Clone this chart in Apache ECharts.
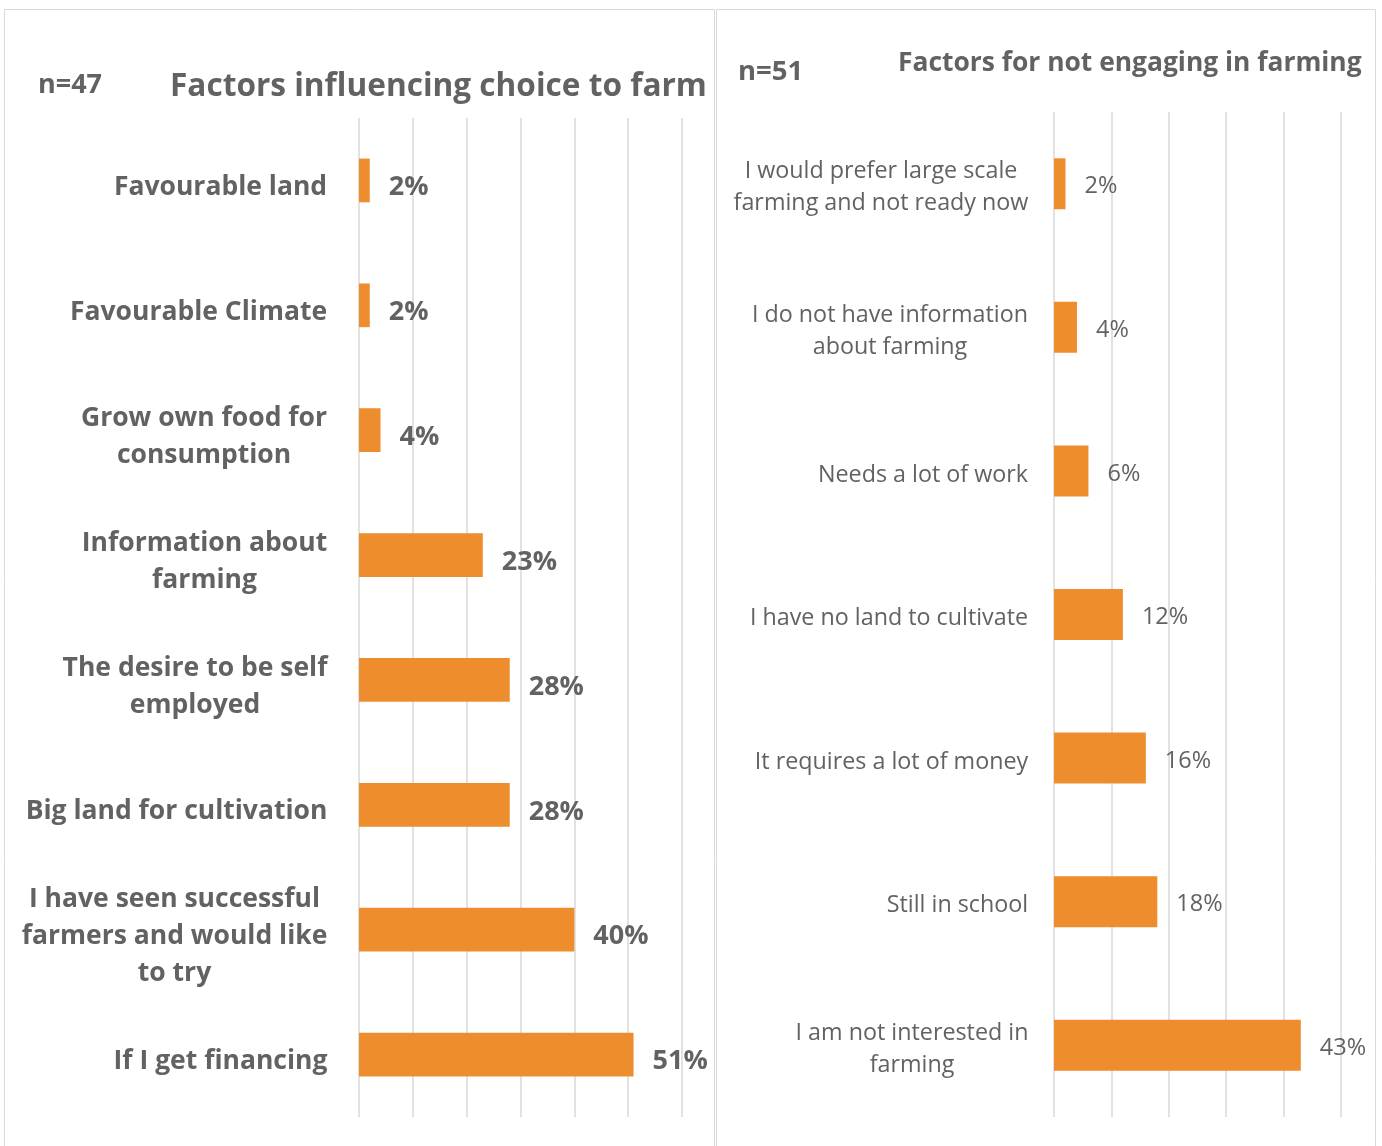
<!DOCTYPE html>
<html>
<head>
<meta charset="utf-8">
<script src="https://cdn.jsdelivr.net/npm/echarts@6/dist/echarts.min.js"></script>
<style>
  html, body { margin: 0; padding: 0; background: #fff; }
  #chart { width: 1382px; height: 1146px; }
</style>
</head>
<body>
<div id="chart"></div>
<script>
// Survey results (percent of respondents)
const farmReasons = [
  'Favourable land',
  'Favourable Climate',
  'Grow own food for\nconsumption',
  'Information about\nfarming',
  'The desire to be self\nemployed',
  'Big land for cultivation',
  'I have seen successful\nfarmers and would like\nto try',
  'If I get financing'
];
const farmValues = [2, 2, 4, 23, 28, 28, 40, 51];

const notFarmReasons = [
  'I would prefer large scale\nfarming and not ready now',
  'I do not have information\nabout farming',
  'Needs a lot of work',
  'I have no land to cultivate',
  'It requires a lot of money',
  'Still in school',
  'I am not interested in\nfarming'
];
const notFarmValues = [2, 4, 6, 12, 16, 18, 43];

const leftTicks = { min: 0, max: 60, interval: 10 };
const rightTicks = { min: 0, max: 50, interval: 10 };

const FONT = '"Open Sans", "Noto Sans", sans-serif';
const TEXT = '#626262';
const BAR = '#EE8D2D';
const GRID = '#e2e2e2';

// Multi-line labels are centred on their longest line, and the block is right-aligned to the axis.
const ctx = document.createElement('canvas').getContext('2d');
function buildRich(labels, weight, size, lineHeight) {
  ctx.font = `${weight} ${size}px ${FONT}`;
  const rich = {};
  labels.forEach((l, i) => {
    const w = Math.max(...l.split('\n').map(s => ctx.measureText(s).width));
    rich['c' + i] = {
      width: Math.ceil(w) + 1, align: 'center', fontFamily: FONT,
      fontWeight: weight, fontSize: size, lineHeight: lineHeight, color: TEXT
    };
  });
  return rich;
}
const leftRich = buildRich(farmReasons, 'bold', 26.5, 37);
const rightRich = buildRich(notFarmReasons, 'normal', 23.3, 32);

const chart = echarts.init(document.getElementById('chart'), null, { renderer: 'canvas' });

function valueAxis(idx, ticks) {
  return {
    type: 'value', gridIndex: idx, min: ticks.min, max: ticks.max, interval: ticks.interval,
    axisLabel: { show: false }, axisLine: { show: false }, axisTick: { show: false },
    splitLine: { show: true, lineStyle: { color: GRID, width: 2 } }
  };
}
function catAxis(idx, data, rich, margin, shift) {
  return {
    type: 'category', gridIndex: idx, data: data, inverse: true,
    axisLine: { show: false }, axisTick: { show: false },
    axisLabel: {
      margin: margin, interval: 0, padding: [shift * 2, 0, 0, 0],
      formatter: (v, i) => `{c${i}|${v}}`, rich: rich
    }
  };
}

chart.setOption({
  animation: false,
  backgroundColor: '#fff',
  grid: [
    { left: 359, width: 323, top: 118, height: 999 },
    { left: 1054, width: 287, top: 112, height: 1005 }
  ],
  xAxis: [valueAxis(0, leftTicks), valueAxis(1, rightTicks)],
  yAxis: [catAxis(0, farmReasons, leftRich, 31, 7), catAxis(1, notFarmReasons, rightRich, 25, 4)],
  series: [
    {
      type: 'bar', xAxisIndex: 0, yAxisIndex: 0, data: farmValues,
      barCategoryGap: '65%', itemStyle: { color: BAR },
      label: {
        show: true, position: 'right', distance: 19, offset: [0, 7], formatter: '{c}%',
        fontFamily: FONT, fontWeight: 'bold', fontSize: 27, color: TEXT
      }
    },
    {
      type: 'bar', xAxisIndex: 1, yAxisIndex: 1, data: notFarmValues,
      barCategoryGap: '64.5%', itemStyle: { color: BAR },
      label: {
        show: true, position: 'right', distance: 19, offset: [0, 3], formatter: '{c}%',
        fontFamily: FONT, fontSize: 23.5, color: TEXT
      }
    }
  ],
  graphic: [
    { type: 'rect', shape: { x: 4.5, y: 9.5, width: 710, height: 1150 },
      style: { fill: 'none', stroke: '#d9d9d9', lineWidth: 1 }, silent: true },
    { type: 'rect', shape: { x: 716.5, y: 9.5, width: 659, height: 1150 },
      style: { fill: 'none', stroke: '#d9d9d9', lineWidth: 1 }, silent: true },
    { type: 'text', x: 38, y: 85,
      style: { text: 'n=47', font: `bold 27px ${FONT}`, fill: TEXT, textVerticalAlign: 'middle' } },
    { type: 'text', x: 170, y: 87,
      style: { text: 'Factors influencing choice to farm', font: `bold 31.6px ${FONT}`, fill: TEXT, textVerticalAlign: 'middle' } },
    { type: 'text', x: 738, y: 72,
      style: { text: 'n=51', font: `bold 27.5px ${FONT}`, fill: TEXT, textVerticalAlign: 'middle' } },
    { type: 'text', x: 898, y: 63,
      style: { text: 'Factors for not engaging in farming', font: `bold 26.4px ${FONT}`, fill: TEXT, textVerticalAlign: 'middle' } }
  ]
});
</script>
</body>
</html>
